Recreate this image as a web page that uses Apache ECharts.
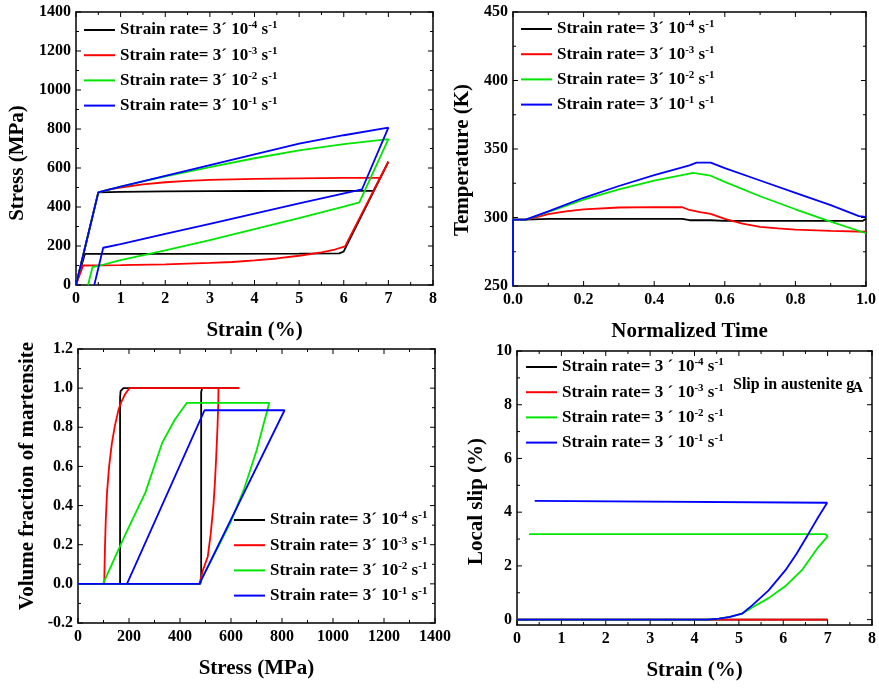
<!DOCTYPE html>
<html><head><meta charset="utf-8">
<script src="https://cdn.jsdelivr.net/npm/echarts@6/dist/echarts.min.js"></script>
<style>html,body{margin:0;padding:0;background:#fff}#c{width:879px;height:688px}</style>
</head><body><div id="c"></div>
<script>
// ---------- data ----------
const rateNames = ['r4', 'r3', 'r2', 'r1'];
const rateExp = ['-4', '-3', '-2', '-1'];
const slipNames = ['q4', 'q3', 'q2', 'q1'];

// tick values
const strainMajor = [0, 1, 2, 3, 4, 5, 6, 7, 8];
const strainMinor = [0.5, 1.5, 2.5, 3.5, 4.5, 5.5, 6.5, 7.5];
const stressMajor = [0, 200, 400, 600, 800, 1000, 1200, 1400];
const stressMinor = [100, 300, 500, 700, 900, 1100, 1300];
const timeMajor = [0, 0.2, 0.4, 0.6, 0.8, 1.0];
const timeMinor = [0.1, 0.3, 0.5, 0.7, 0.9];
const tempMajor = [250, 300, 350, 400, 450];
const tempMinor = [275, 325, 375, 425];
const fracMajor = [-0.2, 0, 0.2, 0.4, 0.6, 0.8, 1.0, 1.2];
const fracMinor = [-0.1, 0.1, 0.3, 0.5, 0.7, 0.9, 1.1];
const slipMajor = [0, 2, 4, 6, 8, 10];
const slipMinor = [1, 3, 5, 7, 9];

// Panel a: stress (MPa) vs strain (%)
const ssBlack = [[0,0],[0.5,475],[1,478],[2,480],[3,481],[4,482],[5,483],[6,483],[6.67,484],[7,632],[6.0,172],[5.9,162],[5,161],[3,160],[1,160],[0.2,160],[0,0]];
const ssRed = [[0,0],[0.5,475],[0.75,490],[1,500],[1.5,516],[2,527],[2.5,534],[3,539],[4,544],[5,547],[6,549],[6.82,550],[7,632],[6.03,198],[5.8,182],[5.5,167],[5,150],[4.5,136],[4,126],[3.5,118],[3,113],[2,106],[1,102],[0.16,100],[0,0]];
const ssGreen = [[0,0],[0.5,475],[1,505],[2,557],[3,605],[4,650],[5,690],[6,722],[7,748],[6.35,424],[6,402],[5,343],[4,286],[3,230],[2,177],[1,127],[0.54,100],[0.37,92],[0.27,0]];
const ssBlue = [[0,0],[0.5,475],[1,505],[2,560],[3,615],[4,670],[5,725],[6,768],[7,807],[6.41,491],[5,418],[4,366],[3,314],[2,262],[1,210],[0.61,191],[0.41,0]];

// Panel b: temperature (K) vs normalized time
const tBlack = [[0,250],[0,298.5],[0.036,298.5],[0.1,299],[0.3,299],[0.48,299],[0.5,298],[0.56,298],[0.6,297.5],[0.8,297.5],[0.99,297.5],[1,299]];
const tRed = [[0,250],[0,298.5],[0.036,298.5],[0.07,300.5],[0.1,302.5],[0.15,304.5],[0.2,306],[0.3,307.3],[0.4,307.6],[0.48,307.5],[0.5,305.5],[0.53,304],[0.56,302.7],[0.6,299],[0.65,295.5],[0.7,293.2],[0.75,292],[0.8,291.2],[0.9,290.2],[1,289.6]];
const tGreen = [[0,250],[0,298.5],[0.036,298.5],[0.1,304],[0.2,313],[0.3,320.5],[0.4,327],[0.5,332],[0.51,332.5],[0.56,330.5],[0.6,326],[0.7,315.5],[0.8,306],[0.9,297],[1,288.5]];
const tBlue = [[0,250],[0,298.5],[0.036,298.5],[0.1,304.5],[0.2,314.4],[0.3,323],[0.4,331],[0.5,338],[0.52,340],[0.56,340],[0.6,336],[0.7,327],[0.8,318],[0.9,309],[0.98,301],[1,300.5]];

// Panel c: volume fraction of martensite vs stress (MPa)
const vBlack = [[0,0],[480,0],[483,0.02],[483,0.98],[487,1],[632,1],[178,1],[167,0.985],[165,0.95],[165,0],[0,0]];
const vRed = [[0,0],[476,0],[490,0.07],[509,0.14],[520,0.25],[531,0.4],[537,0.52],[542,0.65],[547,0.8],[550,0.92],[551,1],[633,1],[202,1],[185,0.97],[170,0.93],[159,0.89],[145,0.81],[133,0.72],[122,0.6],[114,0.47],[109,0.33],[106,0.2],[104,0.08],[103,0],[0,0]];
const vGreen = [[0,0],[476,0],[540,0.165],[600,0.32],[650,0.48],[700,0.68],[750,0.925],[427,0.925],[380,0.84],[330,0.72],[264,0.466],[185,0.25],[98,0],[0,0]];
const vBlue = [[0,0],[476,0],[810,0.887],[496,0.887],[192,0],[0,0]];

// Panel d: local slip (%) vs strain (%)
const sBlack = [[0,0],[7,0]];
const sRed = [[0,0],[7,0]];
const sGreen = [[0,0],[4.3,0],[4.55,0.04],[4.8,0.1],[5.07,0.22],[5.3,0.45],[5.67,0.8],[6.05,1.25],[6.42,1.84],[6.79,2.7],[7,3.1],[6.95,3.18],[0.27,3.18]];
const sBlue = [[0,0],[4.3,0],[4.55,0.04],[4.8,0.1],[5.07,0.22],[5.3,0.53],[5.67,1.09],[6.05,1.84],[6.3,2.45],[6.57,3.2],[6.8,3.85],[6.99,4.35],[6.95,4.42],[0.4,4.42]];

// ---------- chart ----------
const F = 'Liberation Serif';
const colors = ['#000000', '#ff0000', '#00e600', '#0000ff'];
const chart = echarts.init(document.getElementById('c'));

const lbl = () => ({show: true, fontFamily: F, fontWeight: 'bold', fontSize: 16, color: '#000'});
const nameStyle = () => ({fontFamily: F, fontWeight: 'bold', fontSize: 21, color: '#000'});
const axisLine = () => ({show: true, onZero: false, lineStyle: {color: '#000', width: 1.5}});
const plain = v => (v < 0 ? '' : String(v));
const f1 = v => v.toFixed(1);

function ax(g, min, max, step, split, pos, extra) {
  const o = {type: 'value', gridIndex: g, min, max, position: pos,
    axisTick: {show: false}, minorTick: {show: false}, axisLine: axisLine(),
    splitLine: {show: false}, axisLabel: {show: false}};
  if (step != null) o.interval = step; else o.splitNumber = split;
  return Object.assign(o, extra || {});
}
function xPair(g, min, max, step, name, fmt) {
  return [
    ax(g, min, max, step, 5, 'bottom', {name, nameLocation: 'middle', nameGap: 35, nameTextStyle: nameStyle(),
      axisLabel: Object.assign(lbl(), {margin: 6, formatter: fmt || plain})}),
    ax(g, min, max, step, 5, 'top')
  ];
}
function yPair(g, min, max, step, name, gap, pad, fmt) {
  return [
    ax(g, min, max, step, 5, 'left', {name, nameLocation: 'middle', nameGap: gap,
      nameTextStyle: Object.assign({padding: pad}, nameStyle()),
      axisLabel: Object.assign(lbl(), {margin: 5, formatter: fmt || plain})}),
    ax(g, min, max, step, 5, 'right')
  ];
}

const xAxes = [].concat(
  xPair(0, 0, 8, 1, 'Strain (%)'),
  xPair(1, 0, 1, 0.2, 'Normalized Time', f1),
  xPair(2, 0, 1400, 200, 'Stress (MPa)'),
  xPair(3, 0, 8, 1, 'Strain (%)')
);
const yAxes = [].concat(
  yPair(0, 0, 1400, 200, 'Stress (MPa)', 48, [0, 29, 0, 0]),
  yPair(1, 250, 450, 50, 'Temperature (K)', 40, [0, 22, 0, 0]),
  yPair(2, -0.2, 1.2, 0.2, 'Volume fraction of martensite', 40, [0, 0, 0, 20], f1),
  yPair(3, -0.2, 10, null, 'Local slip (%)', 30, [0, 27, 0, 0])
);

const panels = [
  {g: 0, names: rateNames, data: [ssBlack, ssRed, ssGreen, ssBlue],
   xr: [0, 8], yr: [0, 1400], xMaj: strainMajor, xMin: strainMinor, yMaj: stressMajor, yMin: stressMinor},
  {g: 1, names: rateNames, data: [tBlack, tRed, tGreen, tBlue],
   xr: [0, 1], yr: [250, 450], xMaj: timeMajor, xMin: timeMinor, yMaj: tempMajor, yMin: tempMinor},
  {g: 2, names: rateNames, data: [vBlack, vRed, vGreen, vBlue],
   xr: [0, 1400], yr: [-0.2, 1.2], xMaj: stressMajor, xMin: stressMinor, yMaj: fracMajor, yMin: fracMinor},
  {g: 3, names: slipNames, data: [sBlack, sRed, sGreen, sBlue],
   xr: [0, 8], yr: [-0.2, 10], xMaj: strainMajor, xMin: strainMinor, yMaj: slipMajor, yMin: slipMinor}
];

// inward ticks on all four sides, placed through the axes' own scales
function tickSeries(p) {
  return {
    type: 'custom', xAxisIndex: 2 * p.g, yAxisIndex: 2 * p.g, data: [[p.xr[0], p.yr[0]]],
    silent: true, clip: false, z: 3, animation: false,
    renderItem: function (params, api) {
      const a = api.coord([p.xr[0], p.yr[0]]);
      const b = api.coord([p.xr[1], p.yr[1]]);
      const kids = [];
      const add = (x1, y1, x2, y2) => kids.push({type: 'line', shape: {x1, y1, x2, y2},
        style: {stroke: '#000', lineWidth: 1}});
      const xt = (vals, len) => vals.forEach(v => {
        const x = api.coord([v, p.yr[0]])[0];
        add(x, a[1], x, a[1] - len); add(x, b[1], x, b[1] + len);
      });
      const yt = (vals, len) => vals.forEach(v => {
        const y = api.coord([p.xr[0], v])[1];
        add(a[0], y, a[0] + len, y); add(b[0], y, b[0] - len, y);
      });
      xt(p.xMaj, 5); xt(p.xMin, 3); yt(p.yMaj, 5); yt(p.yMin, 3);
      return {type: 'group', children: kids};
    }
  };
}

const series = [];
panels.forEach(p => {
  p.data.forEach((d, i) => series.push({
    type: 'line', name: p.names[i], xAxisIndex: 2 * p.g, yAxisIndex: 2 * p.g, data: d,
    symbol: 'none', lineStyle: {width: 1.8, color: colors[i]}, itemStyle: {color: colors[i]},
    animation: false
  }));
  series.push(tickSeries(p));
});

const rich = {
  t: {fontFamily: F, fontWeight: 'bold', fontSize: 17, color: '#000', lineHeight: 20},
  sup: {fontFamily: F, fontWeight: 'bold', fontSize: 11, color: '#000', verticalAlign: 'top'}
};
function legFmt(name) {
  const i = Math.max(rateNames.indexOf(name), slipNames.indexOf(name));
  const mid = slipNames.indexOf(name) >= 0 ? '3 ´ 10' : '3´ 10';
  return '{t|Strain rate= ' + mid + '}{sup|' + rateExp[i] + '}{t| s}{sup|-1}';
}
function legend(names, left, top) {
  return {data: names, left, top, padding: 0, orient: 'vertical', itemGap: 6.7, icon: 'rect', itemWidth: 31, itemHeight: 2,
    selectedMode: false, formatter: legFmt, textStyle: {rich}};
}

chart.setOption({
  animation: false,
  backgroundColor: '#fff',
  grid: [
    {left: 76, top: 12, width: 357, height: 273},
    {left: 513, top: 12, width: 356, height: 274},
    {left: 78, top: 349, width: 357, height: 274},
    {left: 517, top: 351, width: 357, height: 274}
  ],
  xAxis: xAxes,
  yAxis: yAxes,
  legend: [
    legend(rateNames, 84, 20),
    legend(rateNames, 521, 19),
    legend(rateNames, 234, 510),
    legend(slipNames, 526, 357)
  ],
  graphic: [{
    type: 'text', left: 733, top: 377,
    style: {text: '{t|Slip in austenite g}{s|A}',
      rich: {t: {fontFamily: F, fontWeight: 'bold', fontSize: 16, fill: '#000', lineHeight: 20},
             s: {fontFamily: F, fontWeight: 'bold', fontSize: 15, fill: '#000', verticalAlign: 'bottom', padding: [6, 0, 0, -2]}}}
  }],
  series
});
</script></body></html>
